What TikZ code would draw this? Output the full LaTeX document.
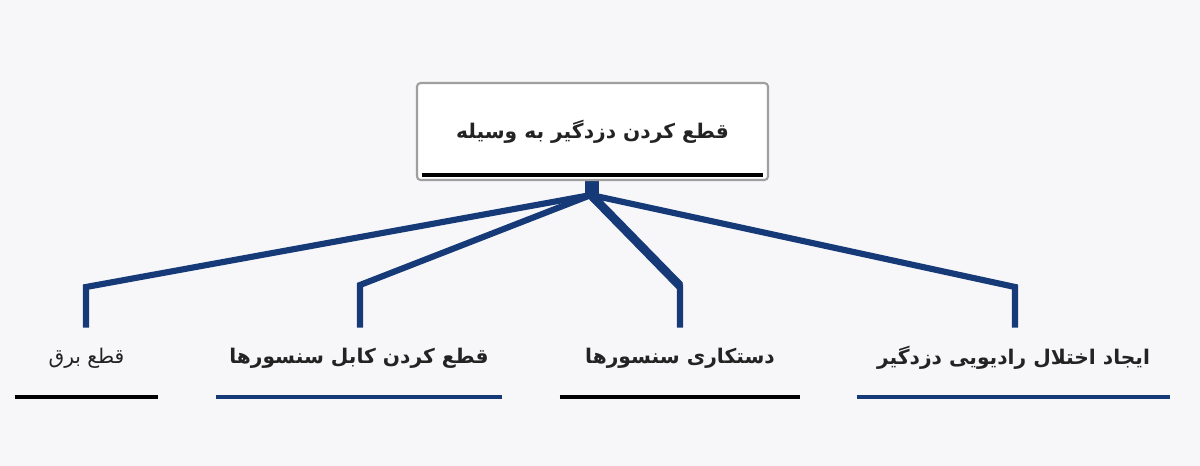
\documentclass[tikz,border=0pt]{standalone}
\usepackage{fontspec}
\usepackage{xcolor}
\TeXXeTstate=1
\newfontfamily\arabicfont[Script=Arabic]{DejaVu Sans}
\definecolor{navyblue}{RGB}{22,58,120}
\definecolor{pagegrey}{RGB}{247,247,249}
\definecolor{textgrey}{RGB}{35,35,35}
\tikzset{
    title-box/.style = {draw=gray!75, fill=white, line width=1.2pt, rectangle, rounded corners=2pt, minimum width=7.02cm, minimum height=1.94cm, text=textgrey, font=\arabicfont\bfseries\fontsize{11.5}{14}\selectfont},
    leaf-label/.style = {rectangle, minimum height=1.2cm, inner sep=0pt, text=textgrey, font=\arabicfont\bfseries\fontsize{11.5}{14}\selectfont},
    branch/.style = {draw=navyblue, line width=3.5pt},
    under-bar/.style = {line width=2.2pt},
}

\begin{document}
\begin{tikzpicture}[x=0.02cm, y=-0.02cm]
\fill[pagegrey] (0,0) rectangle (1200,466);
\useasboundingbox (0,0) rectangle (1200,466);

% top box
\draw[navyblue, line width=8pt] (592,170) -- (592,196);
\node[title-box] (root) at (592.5,131.5) {\beginR قطع کردن دزدگیر به وسیله\endR};
\draw[under-bar, line width=2.4pt] ([xshift=0.12cm, yshift=0.12cm]root.south west) -- ([xshift=-0.12cm, yshift=0.12cm]root.south east);

% leaves
\node[leaf-label, minimum width=2.86cm, font=\arabicfont\fontsize{11.5}{14}\selectfont] (power) at (86.5,358) {\beginR قطع برق\endR};
\node[leaf-label, minimum width=5.72cm] (cable) at (359,358) {\beginR قطع کردن کابل سنسورها\endR};
\node[leaf-label, minimum width=4.8cm] (tamper) at (680,358) {\beginR دستکاری سنسورها\endR};
\node[leaf-label, minimum width=6.26cm] (jamming) at (1013.5,358) {\beginR ایجاد اختلال رادیویی دزدگیر\endR};

\draw[under-bar, black] ([yshift=-0.18cm]power.south west) -- ([yshift=-0.18cm]power.south east);
\draw[under-bar, navyblue] ([yshift=-0.18cm]cable.south west) -- ([yshift=-0.18cm]cable.south east);
\draw[under-bar, black] ([yshift=-0.18cm]tamper.south west) -- ([yshift=-0.18cm]tamper.south east);
\draw[under-bar, navyblue] ([yshift=-0.18cm]jamming.south west) -- ([yshift=-0.18cm]jamming.south east);

% branches
\coordinate (hub) at (591,195);
\coordinate (bend-power) at (86,287);
\coordinate (bend-cable) at (360,285);
\coordinate (bend-tamper) at (680,286);
\coordinate (bend-jamming) at (1015,287);
\draw[navyblue, line width=5pt] (hub) -- (bend-tamper);
\draw[branch] (hub) -- (bend-power) -- (bend-power |- power.north);
\draw[branch] (hub) -- (bend-cable) -- (bend-cable |- cable.north);
\draw[branch] (hub) -- (bend-tamper) -- (bend-tamper |- tamper.north);
\draw[branch] (hub) -- (bend-jamming) -- (bend-jamming |- jamming.north);
\end{tikzpicture}
\end{document}
